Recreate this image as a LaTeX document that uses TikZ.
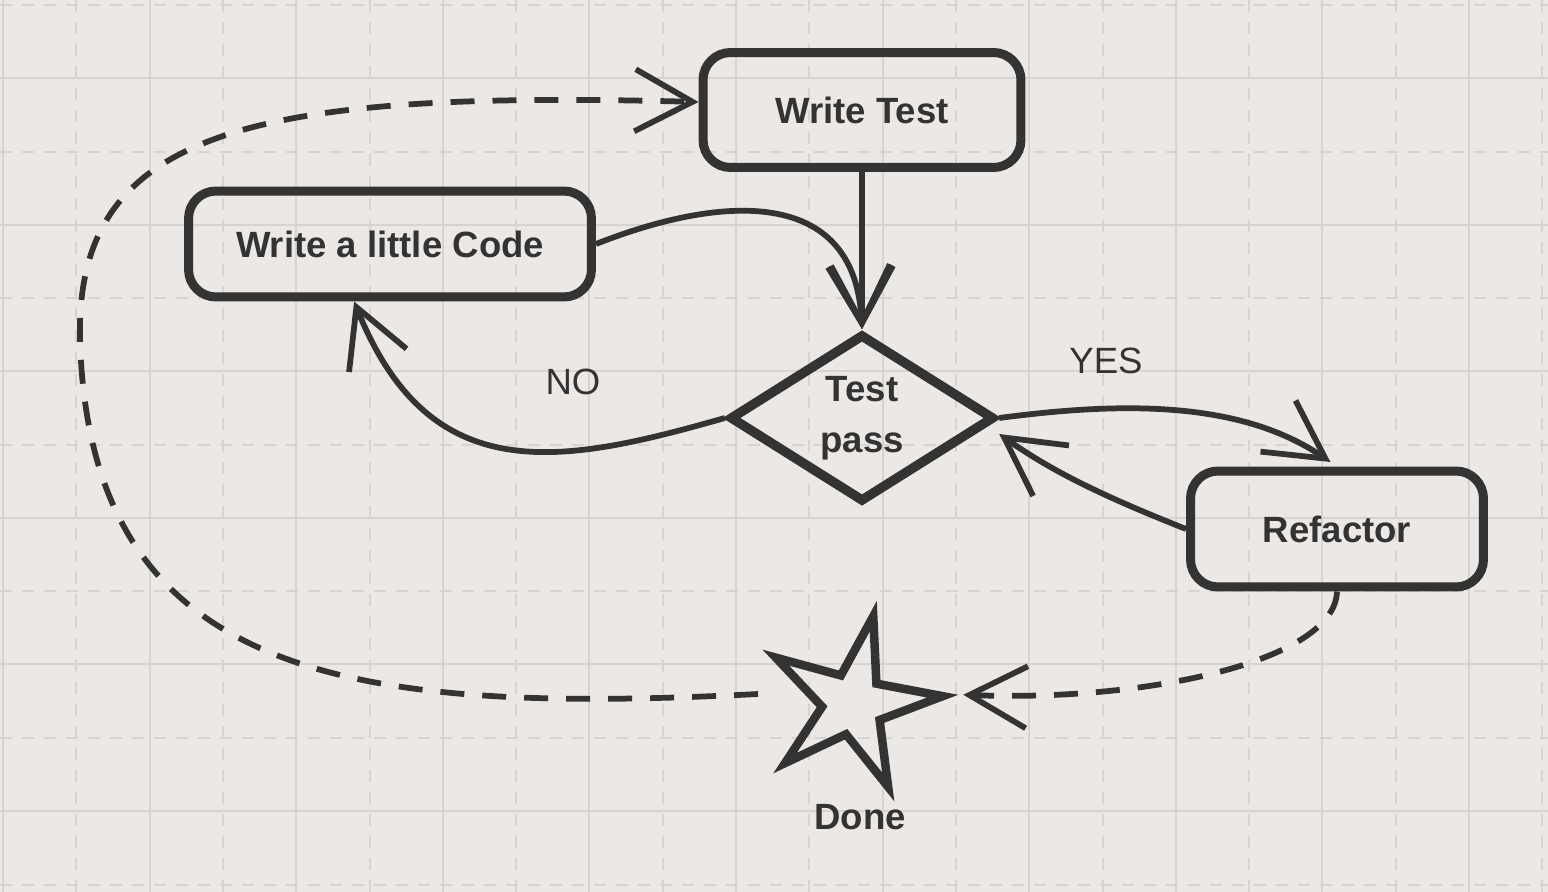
\documentclass[tikz,border=0pt]{standalone}
\usepackage{fontspec}
\setmainfont{Liberation Sans}
\usepackage{tikz}
\usetikzlibrary{arrows.meta}
\usetikzlibrary{shapes.geometric}
\definecolor{ink}{HTML}{333333}
\definecolor{paper}{HTML}{EBE8E5}
\definecolor{gridln}{HTML}{D6D3D0}

\begin{document}
\begin{tikzpicture}[x=0.02cm, y=-0.02cm,
  box/.style={draw=ink, line width=0.18cm, rounded corners=0.55cm, text=ink, inner sep=0, font=\fontsize{20.8}{25}\selectfont\bfseries},
  decide/.style={diamond, aspect=1.6, draw=ink, line width=0.19cm, inner sep=0, minimum width=5.3cm, minimum height=3.36cm, text=ink, align=center, font=\fontsize{20.8}{29}\selectfont\bfseries},
  conn/.style={draw=ink, line width=0.115cm, -{Straight Barb[length=1.15cm, width=1.24cm]}},
  loopconn/.style={conn, dash pattern=on 0.48cm off 0.36cm},
  answer/.style={text=ink, font=\fontsize{20.8}{25}\selectfont},
  caption/.style={text=ink, font=\fontsize{20.8}{25}\selectfont\bfseries},
  gridsolid/.style={draw=gridln, line width=0.04cm},
  griddash/.style={draw=gridln, line width=0.04cm, dash pattern=on 0.24cm off 0.2cm}]
\fill [paper] (0,0) rectangle (1548,892);
\useasboundingbox (0,0) rectangle (1548,892);
\foreach \k in {0,...,10} {
  \draw [gridsolid] ({3+146.6*\k},0) -- ++(0,892);
  \draw [griddash] ({76.3+146.6*\k},0) -- ++(0,892);
}
\foreach \k in {0,...,5}
  \draw [gridsolid] (0,{78+146.6*\k}) -- ++(1548,0);
\foreach \k in {0,...,6}
  \draw [griddash] (0,{5+146.6*\k}) -- ++(1548,0);

\node [box, minimum width=6.36cm, minimum height=2.3cm] (wtest) at (862,110) {Write Test};
\node [box, minimum width=8.06cm, minimum height=2.12cm] (wcode) at (390,244) {Write a little Code};
\node [box, minimum width=5.86cm, minimum height=2.32cm] (refac) at (1337,529) {Refactor};
\node [decide] (test) at (862,418) {Test\\pass};
\node [star, star points=5, star point ratio=2.9, shape border rotate=-13, minimum size=3.6cm, draw=ink, line width=0.17cm, inner sep=0] (done) at (853,704) {};
\node [caption] (donetxt) at (860,817) {Done};
\node [answer] (yes) at (1106,361) {YES};
\node [answer] (no) at (573,382) {NO};

\draw [conn] (wtest) -- (test);
\draw [conn] (wcode.east) .. controls (720,195) and (855,185) .. (test.north);
\draw [conn] (test.west) .. controls (560,465) and (430,490) .. (wcode.238);
\draw [conn, shorten >=0.16cm] (test.east) .. controls (1120,402) and (1240,400) .. (refac.north);
\draw [conn] (refac.west) .. controls (1100,495) and (1050,470) .. ([yshift=-0.32cm]test.east);
\draw [loopconn] (refac.south) .. controls (1335,660) and (1150,702) .. ([xshift=0.1cm]done.outer point 5);
\draw [loopconn] ([xshift=-1.9cm, yshift=0.2cm]done.center) .. controls (350,715) and (90,680) .. (80,340)
  .. controls (75,130) and (250,90) .. ([yshift=0.16cm]wtest.west);
\end{tikzpicture}
\end{document}
